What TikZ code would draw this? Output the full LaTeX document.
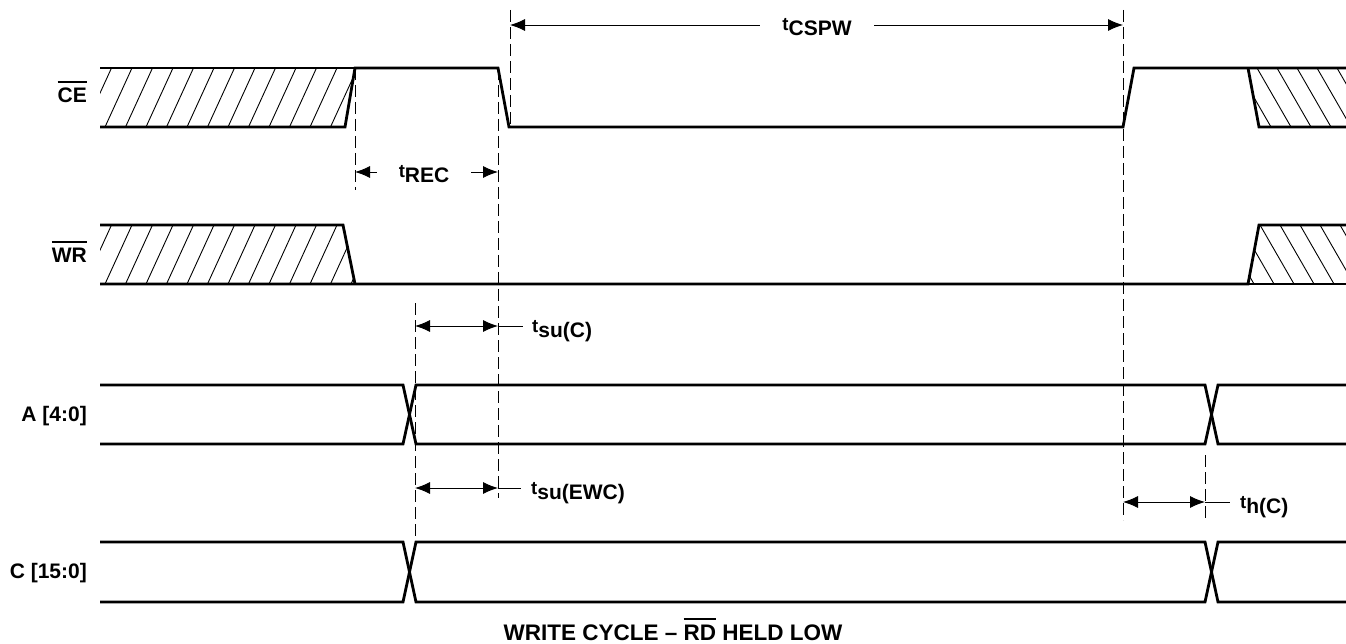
\documentclass[tikz,border=0pt]{standalone}
\usepackage{fontspec}
\setmainfont{Liberation Sans}
\usetikzlibrary{arrows.meta}
\newcommand{\tlab}[1]{{\fontsize{18.5}{20}\selectfont t}\raisebox{-5pt}{#1}}
\newcommand{\ovl}[1]{\leavevmode\vbox{\hrule height 2pt\kern 5pt\hbox{#1}}}
\begin{document}
\begin{tikzpicture}[x=1pt,y=-1pt,
  sig/.style={line width=2.8pt,line join=miter},
  hatchline/.style={line width=0.9pt},
  guide/.style={line width=0.9pt,dash pattern=on 12pt off 5pt},
  dimline/.style={line width=0.9pt,{Latex[length=15pt,width=12pt]}-{Latex[length=15pt,width=12pt]}},
  tailline/.style={line width=0.9pt},
  lbl/.style={font=\fontsize{21}{24}\selectfont\bfseries,inner sep=0pt},
  caplbl/.style={font=\fontsize{22.5}{26}\selectfont\bfseries,inner sep=0pt},
  dimlbl/.style={lbl,fill=white,inner xsep=22pt,inner ysep=3pt}]
\useasboundingbox (0,0) rectangle (1346,644);

% ---------- signal names ----------
\node[lbl,anchor=base east] (ceL) at (87,103) {\ovl{CE}};
\node[lbl,anchor=base east] (wrL) at (87,262) {\ovl{WR}};
\node[lbl,anchor=base east] (aL) at (87,421) {A [4:0]};
\node[lbl,anchor=base east] (cL) at (87,578) {C [15:0]};
\node[caplbl,anchor=base] (cap) at (673,640) {WRITE CYCLE -- \ovl{RD} HELD LOW};

% ---------- hatching ----------
\begin{scope}
  \clip (100,68) -- (355,68) -- (345,127) -- (100,127) -- cycle;
  \foreach \x in {64,84.5,...,380} \draw[hatchline] (\x,127) -- ({\x+27},68);
\end{scope}
\begin{scope}
  \clip (100,225) -- (343,225) -- (355,284) -- (100,284) -- cycle;
  \foreach \x in {64,84.5,...,380} \draw[hatchline] (\x,284) -- ({\x+27},225);
\end{scope}
\begin{scope}
  \clip (1248,68) -- (1346,68) -- (1346,127) -- (1259,127) -- cycle;
  \foreach \x in {1197,1217,...,1350} \draw[hatchline] (\x,68) -- ({\x+34},127);
\end{scope}
\begin{scope}
  \clip (1259,225) -- (1346,225) -- (1346,284) -- (1248,284) -- cycle;
  \foreach \x in {1200,1220,...,1350} \draw[hatchline] (\x,225) -- ({\x+34},284);
\end{scope}

% ---------- CE ----------
\draw[sig] (100,68) -- (355,68);
\draw[sig] (100,127) -- (345,127) -- (355,68) -- (498,68) -- (509,127) -- (1123,127) -- (1134,68) -- (1346,68);
\draw[sig] (1248,68) -- (1259,127) -- (1346,127);
% ---------- WR ----------
\draw[sig] (100,225) -- (343,225) -- (355,284);
\draw[sig] (100,284) -- (1248,284) -- (1259,225) -- (1346,225);
\draw[sig] (1248,284) -- (1346,284);
% ---------- A ----------
\draw[sig] (100,385) -- (403,385) -- (416,444) -- (1205,444) -- (1218,385) -- (1346,385);
\draw[sig] (100,444) -- (403,444) -- (416,385) -- (1205,385) -- (1218,444) -- (1346,444);
% ---------- C ----------
\draw[sig] (100,542) -- (403,542) -- (416,602) -- (1205,602) -- (1218,542) -- (1346,542);
\draw[sig] (100,602) -- (403,602) -- (416,542) -- (1205,542) -- (1218,602) -- (1346,602);

% ---------- guide lines ----------
\coordinate (g1t) at (355,68);   \coordinate (g1b) at (355,190);
\coordinate (g2t) at (498,68);   \coordinate (g2b) at (498,498);
\coordinate (g3t) at (510,10);   \coordinate (g3b) at (510,127);
\coordinate (g4t) at (415,303);  \coordinate (g4b) at (415,540);
\coordinate (g5t) at (1123,10);  \coordinate (g5b) at (1123,520);
\coordinate (g6t) at (1205,455); \coordinate (g6b) at (1205,520);
\foreach \g in {g1,g2,g3,g4,g5,g6} \draw[guide] (\g t) -- (\g b);

% ---------- dimensions ----------
\coordinate (cspwL) at (510,25);  \coordinate (cspwR) at (1123,25);
\draw[dimline] (cspwL) -- (cspwR);
\node[dimlbl,anchor=base] (cspw) at (817,31) {\tlab{CSPW}};

\coordinate (recL) at (355,172);  \coordinate (recR) at (498,172);
\draw[dimline] (recL) -- (recR);
\node[dimlbl,anchor=base] (rec) at (424,178) {\tlab{REC}};

\coordinate (suL) at (415,326);  \coordinate (suR) at (498,326); \coordinate (suT) at (523,326);
\draw[dimline] (suL) -- (suR);
\draw[tailline] (suR) -- (suT);
\node[lbl,anchor=base west] (suC) at (532,332) {\tlab{su(C)}};

\coordinate (ewL) at (415,488);  \coordinate (ewR) at (498,488); \coordinate (ewT) at (521,488);
\draw[dimline] (ewL) -- (ewR);
\draw[tailline] (ewR) -- (ewT);
\node[lbl,anchor=base west] (suEWC) at (531,494) {\tlab{su(EWC)}};

\coordinate (hL) at (1123,502);  \coordinate (hR) at (1205,502); \coordinate (hT) at (1230,502);
\draw[dimline] (hL) -- (hR);
\draw[tailline] (hR) -- (hT);
\node[lbl,anchor=base west] (hC) at (1240,508) {\tlab{h(C)}};
\end{tikzpicture}
\end{document}
